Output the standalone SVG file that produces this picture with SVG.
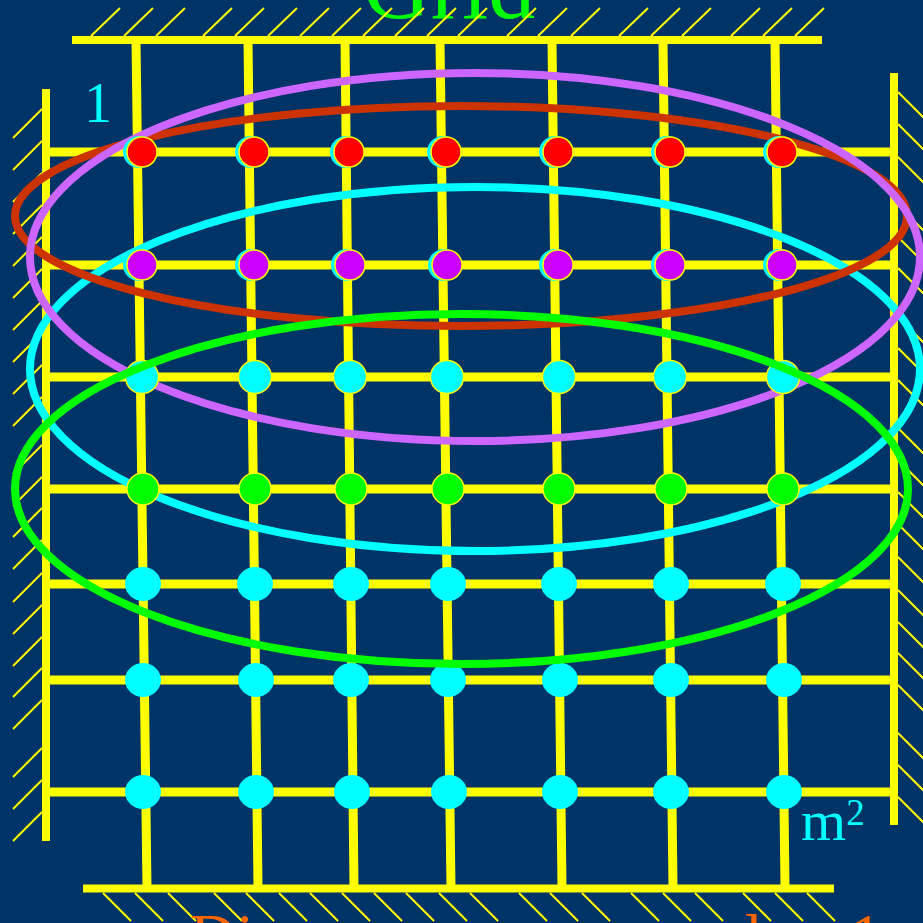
<svg xmlns="http://www.w3.org/2000/svg" width="923" height="923" viewBox="0 0 923 923">
<style>
.hatch{stroke:#FFFF00;stroke-width:2;fill:none}
.wall{stroke:#FFFF00;stroke-width:8;fill:none}
.grid{stroke:#FFFF00;stroke-width:9;fill:none}
.ell{fill:none;stroke-width:8}
.under{fill:#00FFFF}
.red{fill:#FF0000;stroke:#FFFF00;stroke-width:1.5}
.pur{fill:#CC00FF;stroke:#FFFF00;stroke-width:1.5}
.cyo{fill:#00FFFF;stroke:#FFFF00;stroke-width:1.5}
.grn{fill:#00FF00;stroke:#FFFF00;stroke-width:1.5}
.cy{fill:#00FFFF}
.lbl{font-family:"Liberation Serif","Times New Roman",serif}
</style>
<rect width="923" height="923" fill="#003366"/>
<text class="lbl" x="449" y="18" font-size="94" fill="#00FF00" text-anchor="middle">Grid</text>
<g id="walls">
<path class="hatch" d="M91,36l29,-28M124,36l29,-28M156,36l29,-28M203,36l29,-28M235,36l29,-28M268,36l29,-28M300,36l29,-28M332,36l29,-28M363,36l29,-28M395,36l29,-28M427,36l29,-28M458,36l29,-28M507,36l29,-28M538,36l29,-28M571,36l29,-28M619,36l29,-28M651,36l29,-28M682,36l29,-28M731,36l29,-28M763,36l29,-28M795,36l29,-28"/>
<path class="hatch" d="M103,893l28,28M135,893l28,28M168,893l28,28M214,893l28,28M246,893l28,28M279,893l28,28M310,893l28,28M342,893l28,28M374,893l28,28M406,893l28,28M439,893l28,28M470,893l28,28M519,893l28,28M550,893l28,28M582,893l28,28M631,893l28,28M663,893l28,28M695,893l28,28M743,893l28,28M775,893l28,28M807,893l28,28"/>
<path class="hatch" d="M42,109l-29,29M42,141l-29,29M42,173l-29,29M42,205l-29,29M42,237l-29,29M42,269l-29,29M42,301l-29,29M42,333l-29,29M42,365l-29,29M42,397l-29,29M42,445l-29,29M42,477l-29,29M42,508l-29,29M42,540l-29,29M42,573l-29,29M42,605l-29,29M42,637l-29,29M42,668l-29,29M42,700l-29,29M42,748l-29,29M42,780l-29,29M42,812l-29,29"/>
<path class="hatch" d="M898,92l28,28M898,124l28,28M898,157l28,28M898,205l28,28M898,237l28,28M898,268l28,28M898,317l28,28M898,348l28,28M898,380l28,28M898,428l28,28M898,460l28,28M898,492l28,28M898,524l28,28M898,557l28,28M898,590l28,28M898,622l28,28M898,653l28,28M898,685l28,28M898,733l28,28M898,765l28,28M898,797l28,28"/>
<path class="wall" d="M72,40H822M83,888.5H834"/>
<path class="wall" d="M46,89V841M894,73V825"/>
</g>
<g id="connectors">
<path class="grid" d="M46,152H894M46,265H894M46,377H894M46,489H894M46,584H894M46,680H894M46,792H894"/>
<path class="grid" d="M136,40L147,888M248,40L258,888M345,40L354,888M440,40L451,888M552,40L562,888M663,40L673,888M775,40L785,888"/>
</g>
<g id="groups-back">
<ellipse class="ell" cx="475" cy="369" rx="445" ry="182" stroke="#00FFFF"/>
<ellipse class="ell" cx="461" cy="216" rx="446" ry="110" stroke="#CC3300"/>
<ellipse class="ell" cx="475" cy="257" rx="445" ry="184" stroke="#CC66FF"/>
</g>
<g id="row1">
<g id="n1"><circle class="under" cx="139" cy="152" r="16"/><circle class="red" cx="142" cy="152" r="15"/></g>
<g id="n2"><circle class="under" cx="251" cy="152" r="16"/><circle class="red" cx="254" cy="152" r="15"/></g>
<g id="n3"><circle class="under" cx="346" cy="152" r="16"/><circle class="red" cx="349" cy="152" r="15"/></g>
<g id="n4"><circle class="under" cx="443" cy="152" r="16"/><circle class="red" cx="446" cy="152" r="15"/></g>
<g id="n5"><circle class="under" cx="555" cy="152" r="16"/><circle class="red" cx="558" cy="152" r="15"/></g>
<g id="n6"><circle class="under" cx="667" cy="152" r="16"/><circle class="red" cx="670" cy="152" r="15"/></g>
<g id="n7"><circle class="under" cx="779" cy="152" r="16"/><circle class="red" cx="782" cy="152" r="15"/></g>
</g>
<g id="row2">
<g id="n8"><circle class="under" cx="139" cy="265" r="16"/><circle class="pur" cx="142" cy="265" r="15"/></g>
<g id="n9"><circle class="under" cx="251" cy="265" r="16"/><circle class="pur" cx="254" cy="265" r="15"/></g>
<g id="n10"><circle class="under" cx="347" cy="265" r="16"/><circle class="pur" cx="350" cy="265" r="15"/></g>
<g id="n11"><circle class="under" cx="444" cy="265" r="16"/><circle class="pur" cx="447" cy="265" r="15"/></g>
<g id="n12"><circle class="under" cx="555" cy="265" r="16"/><circle class="pur" cx="558" cy="265" r="15"/></g>
<g id="n13"><circle class="under" cx="667" cy="265" r="16"/><circle class="pur" cx="670" cy="265" r="15"/></g>
<g id="n14"><circle class="under" cx="779" cy="265" r="16"/><circle class="pur" cx="782" cy="265" r="15"/></g>
</g>
<g id="row3">
<g id="n15"><circle class="cyo" cx="142" cy="377" r="16.5"/></g>
<g id="n16"><circle class="cyo" cx="255" cy="377" r="16.5"/></g>
<g id="n17"><circle class="cyo" cx="350" cy="377" r="16.5"/></g>
<g id="n18"><circle class="cyo" cx="447" cy="377" r="16.5"/></g>
<g id="n19"><circle class="cyo" cx="559" cy="377" r="16.5"/></g>
<g id="n20"><circle class="cyo" cx="670" cy="377" r="16.5"/></g>
<g id="n21"><circle class="cyo" cx="783" cy="377" r="16.5"/></g>
</g>
<g id="row4">
<g id="n22"><circle class="grn" cx="143" cy="489" r="16"/></g>
<g id="n23"><circle class="grn" cx="255" cy="489" r="16"/></g>
<g id="n24"><circle class="grn" cx="351" cy="489" r="16"/></g>
<g id="n25"><circle class="grn" cx="448" cy="489" r="16"/></g>
<g id="n26"><circle class="grn" cx="559" cy="489" r="16"/></g>
<g id="n27"><circle class="grn" cx="671" cy="489" r="16"/></g>
<g id="n28"><circle class="grn" cx="783" cy="489" r="16"/></g>
</g>
<g id="row5">
<g id="n29"><ellipse class="cy" cx="143" cy="584" rx="18" ry="17"/></g>
<g id="n30"><ellipse class="cy" cx="255" cy="584" rx="18" ry="17"/></g>
<g id="n31"><ellipse class="cy" cx="351" cy="584" rx="18" ry="17"/></g>
<g id="n32"><ellipse class="cy" cx="448" cy="584" rx="18" ry="17"/></g>
<g id="n33"><ellipse class="cy" cx="559" cy="584" rx="18" ry="17"/></g>
<g id="n34"><ellipse class="cy" cx="671" cy="584" rx="18" ry="17"/></g>
<g id="n35"><ellipse class="cy" cx="783" cy="584" rx="18" ry="17"/></g>
</g>
<g id="row6">
<g id="n36"><ellipse class="cy" cx="143" cy="680" rx="18" ry="17"/></g>
<g id="n37"><ellipse class="cy" cx="256" cy="680" rx="18" ry="17"/></g>
<g id="n38"><ellipse class="cy" cx="351" cy="680" rx="18" ry="17"/></g>
<g id="n39"><ellipse class="cy" cx="448" cy="680" rx="18" ry="17"/></g>
<g id="n40"><ellipse class="cy" cx="560" cy="680" rx="18" ry="17"/></g>
<g id="n41"><ellipse class="cy" cx="671" cy="680" rx="18" ry="17"/></g>
<g id="n42"><ellipse class="cy" cx="784" cy="680" rx="18" ry="17"/></g>
</g>
<g id="row7">
<g id="n43"><ellipse class="cy" cx="143" cy="792" rx="18" ry="17"/></g>
<g id="n44"><ellipse class="cy" cx="256" cy="792" rx="18" ry="17"/></g>
<g id="n45"><ellipse class="cy" cx="352" cy="792" rx="18" ry="17"/></g>
<g id="n46"><ellipse class="cy" cx="449" cy="792" rx="18" ry="17"/></g>
<g id="n47"><ellipse class="cy" cx="560" cy="792" rx="18" ry="17"/></g>
<g id="n48"><ellipse class="cy" cx="671" cy="792" rx="18" ry="17"/></g>
<g id="n49"><ellipse class="cy" cx="784" cy="792" rx="18" ry="17"/></g>
</g>
<g id="groups-front">
<ellipse class="ell" cx="461.5" cy="489" rx="446.5" ry="175" stroke="#00FF00"/>
</g>
<text class="lbl" x="98" y="122" font-size="56" fill="#00FFFF" text-anchor="middle">1</text>
<text class="lbl" x="801" y="840" font-size="58" fill="#00FFFF">m<tspan font-size="37" y="825">2</tspan></text>
<text class="lbl" x="190" y="958" font-size="64" fill="#FF6600">Di<tspan x="745">l</tspan><tspan x="850">1</tspan></text>
</svg>
